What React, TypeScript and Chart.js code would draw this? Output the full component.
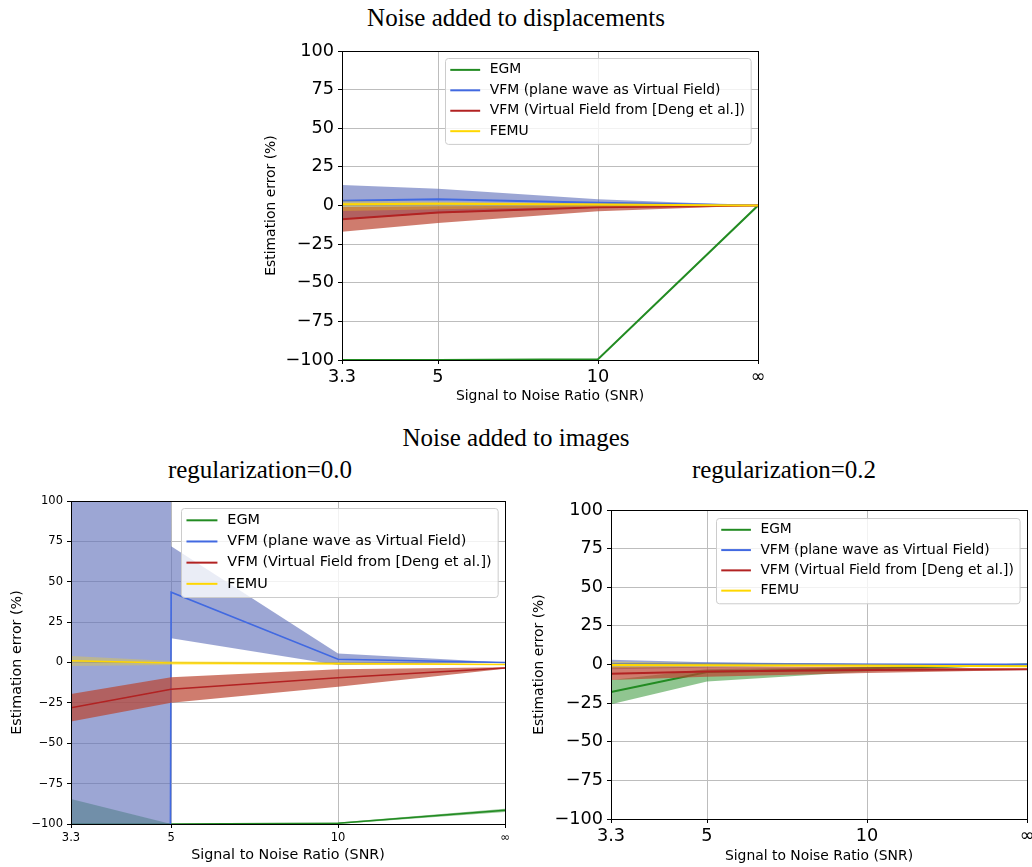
import React, { useEffect, useRef } from 'react';
import { Chart, registerables } from 'chart.js';

Chart.register(...registerables);

// ---------- shared axis data ----------
const SNR_POS = [0, 3, 8, 13];
const SNR_LABELS = ['3.3', '5', '10', '\u221e'];
const Y_TICKS = [-100, -75, -50, -25, 0, 25, 50, 75, 100];

const METHOD_LABELS = [
  'EGM',
  'VFM (plane wave as Virtual Field)',
  'VFM (Virtual Field from [Deng et al.])',
  'FEMU',
];
const LINE_COLORS = ['#228b22', '#4169e1', '#b22222', '#ffd700'];
const BAND_COLORS = [
  'rgba(34,139,34,0.5)',
  'rgba(95,111,186,0.62)',
  'rgba(186,69,48,0.7)',
  'rgba(255,215,0,0.3)',
];

// ---------- Noise added to displacements ----------
const DISP_EGM = [-100, -100, -99.5, 0];
const DISP_VFM_PW = [3, 4, 1.8, 0];
const DISP_VFM_PW_LO = [-9, -5, -1.5, 0];
const DISP_VFM_PW_HI = [13.3, 10.8, 4, 0];
const DISP_VFM_DENG = [-8.9, -4.6, -1.2, 0];
const DISP_VFM_DENG_LO = [-17, -11.3, -3.8, 0];
const DISP_VFM_DENG_HI = [-1, -0.5, 0, 0];
const DISP_FEMU = [0.8, 1.2, 0.7, 0];
const DISP_FEMU_LO = [-3.5, -2.5, -0.8, 0];
const DISP_FEMU_HI = [3, 2.5, 1.5, 0];

// ---------- Noise added to images, regularization = 0.0 ----------
const IMG0_EGM = [-100, -100, -99.5, -91.5];
const IMG0_EGM_LO = [-115, -100, -100, -92.5];
const IMG0_EGM_HI = [-84.5, -100, -99, -90.5];
const IMG0_VFM_PW = [-20000, 43.5, 2, 0];
const IMG0_VFM_PW_LO = [-20000, 15, -1.5, 0];
const IMG0_VFM_PW_HI = [20000, 72, 5.5, 0];
const IMG0_VFM_DENG = [-28, -16.6, -9.4, -3.4];
const IMG0_VFM_DENG_LO = [-36.6, -24.9, -15, -3.8];
const IMG0_VFM_DENG_HI = [-19.5, -9.2, -4.2, -3];
const IMG0_FEMU = [1.1, -0.3, -0.7, -1.2];
const IMG0_FEMU_LO = [-2.2, -1.5, -1.5, -1.5];
const IMG0_FEMU_HI = [4, 1, 0, -1];

// ---------- Noise added to images, regularization = 0.2 ----------
const IMG2_EGM = [-17.8, -4.8, -2.5, 0];
const IMG2_EGM_LO = [-25.8, -11, -4.5, 0];
const IMG2_EGM_HI = [-10, -3, -1.5, 0];
const IMG2_VFM_PW = [0.3, 0.5, 0, 0];
const IMG2_VFM_PW_LO = [-3, -2, -0.5, 0];
const IMG2_VFM_PW_HI = [3, 1.5, 0.5, 0];
const IMG2_VFM_DENG = [-6, -4.6, -3.6, -3.1];
const IMG2_VFM_DENG_LO = [-10, -8, -5.5, -3.5];
const IMG2_VFM_DENG_HI = [-1.5, -1.5, -1.5, -2.7];
const IMG2_FEMU = [-0.3, -0.5, -0.8, -1.2];
const IMG2_FEMU_LO = [-2.5, -1.5, -1.2, -1.5];
const IMG2_FEMU_HI = [2, 1, 0.3, -1];

const FONT = '"DejaVu Sans"';
const SERIF = '"Liberation Serif", "Times New Roman", serif';

const pts = (vals: number[]) => vals.map((y, i) => ({ x: SNR_POS[i], y }));

function buildDatasets(lines: number[][], los: (number[] | null)[], his: (number[] | null)[], lw: number) {
  const ds: any[] = [];
  for (let m = 0; m < lines.length; m++) {
    const lo = los[m];
    const hi = his[m];
    if (lo && hi) {
      ds.push({
        data: pts(lo),
        borderColor: 'rgba(0,0,0,0)',
        backgroundColor: 'rgba(0,0,0,0)',
        borderWidth: 0,
        pointRadius: 0,
        fill: false,
      });
      ds.push({
        data: pts(hi),
        borderColor: 'rgba(0,0,0,0)',
        backgroundColor: BAND_COLORS[m],
        borderWidth: 0,
        pointRadius: 0,
        fill: '-1',
      });
    }
    ds.push({
      data: pts(lines[m]),
      borderColor: LINE_COLORS[m],
      backgroundColor: LINE_COLORS[m],
      borderWidth: lw,
      pointRadius: 0,
      fill: false,
    });
  }
  ds.forEach((d, i) => {
    d.order = ds.length - i;
    d.tension = 0;
  });
  return ds;
}

const framePlugin = {
  id: 'frameLegend',
  afterDatasetsDraw(chart: any) {
    const { ctx, chartArea: a } = chart;
    ctx.save();
    ctx.strokeStyle = '#000';
    ctx.lineWidth = 1;
    ctx.strokeRect(
      Math.round(a.left) + 0.5,
      Math.round(a.top) + 0.5,
      Math.round(a.right - a.left),
      Math.round(a.bottom - a.top)
    );
    ctx.restore();
  },
  afterDraw(chart: any, _args: any, opts: any) {
    const { ctx, chartArea: a } = chart;
    const fs = opts.fs;
    ctx.save();
    ctx.font = `${fs}px ${FONT}`;
    const maxW = Math.max(...METHOD_LABELS.map((l) => ctx.measureText(l).width));
    const rowH = fs * 1.47;
    const w = 3.22 * fs + maxW + 0.42 * fs;
    const h = 4 * rowH + 0.3 * fs;
    const x0 = Math.round(a.right - opts.gap - w);
    const y0 = Math.round(a.top + opts.gap);
    ctx.beginPath();
    (ctx as any).roundRect(x0 + 0.5, y0 + 0.5, w, h, 3);
    ctx.fillStyle = 'rgba(255,255,255,0.8)';
    ctx.fill();
    ctx.strokeStyle = '#cccccc';
    ctx.lineWidth = 1;
    ctx.stroke();
    METHOD_LABELS.forEach((lab, i) => {
      const cy = y0 + 0.12 * fs + rowH * (i + 0.5);
      ctx.strokeStyle = LINE_COLORS[i];
      ctx.lineWidth = 2;
      ctx.beginPath();
      ctx.moveTo(x0 + 0.38 * fs, cy);
      ctx.lineTo(x0 + 0.38 * fs + 2.15 * fs, cy);
      ctx.stroke();
      ctx.fillStyle = '#000';
      ctx.textBaseline = 'middle';
      ctx.textAlign = 'left';
      ctx.fillText(lab, x0 + 3.22 * fs, cy);
    });
    ctx.restore();
  },
};

type PanelProps = {
  left: number; top: number; width: number; height: number;
  yAxisW: number; xAxisH: number; padTop: number; padRight: number;
  tickFs: number; titleFs: number; yTitlePad: number; xTitlePad: number;
  lineW: number; legendFs: number; legendGap: number;
  lines: number[][]; los: (number[] | null)[]; his: (number[] | null)[];
};

function Panel(p: PanelProps) {
  const ref = useRef<HTMLCanvasElement | null>(null);
  useEffect(() => {
    if (!ref.current) return;
    const grid = { color: '#bdbdbd', lineWidth: 1, tickColor: '#000', tickLength: 4, drawTicks: true };
    const chart = new Chart(ref.current, {
      type: 'line',
      data: { datasets: buildDatasets(p.lines, p.los, p.his, p.lineW) },
      plugins: [framePlugin],
      options: {
        responsive: false,
        animation: false,
        events: [],
        devicePixelRatio: 1,
        layout: { padding: { left: 0, right: p.padRight, top: p.padTop, bottom: 0 } },
        plugins: {
          legend: { display: false },
          tooltip: { enabled: false },
          title: { display: false },
          frameLegend: { fs: p.legendFs, gap: p.legendGap },
        } as any,
        scales: {
          x: {
            type: 'linear',
            min: 0,
            max: 13,
            afterBuildTicks: (ax: any) => {
              ax.ticks = SNR_POS.map((v) => ({ value: v }));
            },
            afterFit: (ax: any) => {
              ax.height = p.xAxisH;
              ax.paddingLeft = 0;
              ax.paddingRight = 0;
            },
            ticks: {
              callback: (v: any) => {
                const i = SNR_POS.indexOf(Number(v));
                return i >= 0 ? SNR_LABELS[i] : '';
              },
              font: { size: p.tickFs, family: FONT },
              color: '#000',
              padding: 3,
              maxRotation: 0,
              autoSkip: false,
            },
            grid,
            border: { display: false },
            title: {
              display: true,
              text: 'Signal to Noise Ratio (SNR)',
              font: { size: p.titleFs, family: FONT },
              color: '#000',
              padding: { top: 0, bottom: p.xTitlePad },
            },
          },
          y: {
            type: 'linear',
            min: -100,
            max: 100,
            afterBuildTicks: (ax: any) => {
              ax.ticks = Y_TICKS.map((v) => ({ value: v }));
            },
            afterFit: (ax: any) => {
              ax.width = p.yAxisW;
              ax.paddingTop = 0;
              ax.paddingBottom = 0;
            },
            ticks: {
              callback: (v: any) => (Number(v) < 0 ? '\u2212' + Math.abs(Number(v)) : String(v)),
              font: { size: p.tickFs, family: FONT },
              color: '#000',
              padding: 4,
              autoSkip: false,
            },
            grid,
            border: { display: false },
            title: {
              display: true,
              text: 'Estimation error (%)',
              font: { size: p.titleFs, family: FONT },
              color: '#000',
              padding: { top: p.yTitlePad, bottom: 0 },
            },
          },
        } as any,
      },
    } as any);
    return () => chart.destroy();
  }, []);
  return (
    <canvas
      ref={ref}
      width={p.width}
      height={p.height}
      style={{ position: 'absolute', left: p.left, top: p.top, width: p.width, height: p.height }}
    />
  );
}

function Title({ text, cx, top }: { text: string; cx: number; top: number }) {
  return (
    <div
      style={{
        position: 'absolute',
        left: cx - 250,
        width: 500,
        top,
        textAlign: 'center',
        fontFamily: SERIF,
        fontSize: 25,
        lineHeight: 1,
        color: '#000',
        whiteSpace: 'nowrap',
      }}
    >
      {text}
    </div>
  );
}

export default function App() {
  return (
    <div style={{ position: 'absolute', left: 0, top: 0, width: 1032, height: 867, background: '#fff', overflow: 'hidden' }}>
      <Title text="Noise added to displacements" cx={516} top={5} />
      <Title text="Noise added to images" cx={516} top={425} />
      <Title text="regularization=0.0" cx={260} top={457} />
      <Title text="regularization=0.2" cx={784} top={457} />
      <Panel
        left={240} top={40} width={530} height={380}
        yAxisW={102} xAxisH={60} padTop={11} padRight={12}
        tickFs={17.7} titleFs={13.9} yTitlePad={23.4} xTitlePad={15}
        lineW={2} legendFs={13.9} legendGap={7}
        lines={[DISP_EGM, DISP_VFM_PW, DISP_VFM_DENG, DISP_FEMU]}
        los={[null, DISP_VFM_PW_LO, DISP_VFM_DENG_LO, DISP_FEMU_LO]}
        his={[null, DISP_VFM_PW_HI, DISP_VFM_DENG_HI, DISP_FEMU_HI]}
      />
      <Panel
        left={0} top={490} width={520} height={377}
        yAxisW={71} xAxisH={43} padTop={11} padRight={15}
        tickFs={11.5} titleFs={14.3} yTitlePad={8.7} xTitlePad={3.1}
        lineW={1.6} legendFs={14.4} legendGap={7.3}
        lines={[IMG0_EGM, IMG0_VFM_PW, IMG0_VFM_DENG, IMG0_FEMU]}
        los={[IMG0_EGM_LO, IMG0_VFM_PW_LO, IMG0_VFM_DENG_LO, IMG0_FEMU_LO]}
        his={[IMG0_EGM_HI, IMG0_VFM_PW_HI, IMG0_VFM_DENG_HI, IMG0_FEMU_HI]}
      />
      <Panel
        left={530} top={490} width={502} height={377}
        yAxisW={81} xAxisH={48} padTop={20} padRight={5}
        tickFs={17.7} titleFs={13.9} yTitlePad={1} xTitlePad={2.7}
        lineW={2} legendFs={13.8} legendGap={7.5}
        lines={[IMG2_EGM, IMG2_VFM_PW, IMG2_VFM_DENG, IMG2_FEMU]}
        los={[IMG2_EGM_LO, IMG2_VFM_PW_LO, IMG2_VFM_DENG_LO, IMG2_FEMU_LO]}
        his={[IMG2_EGM_HI, IMG2_VFM_PW_HI, IMG2_VFM_DENG_HI, IMG2_FEMU_HI]}
      />
    </div>
  );
}
